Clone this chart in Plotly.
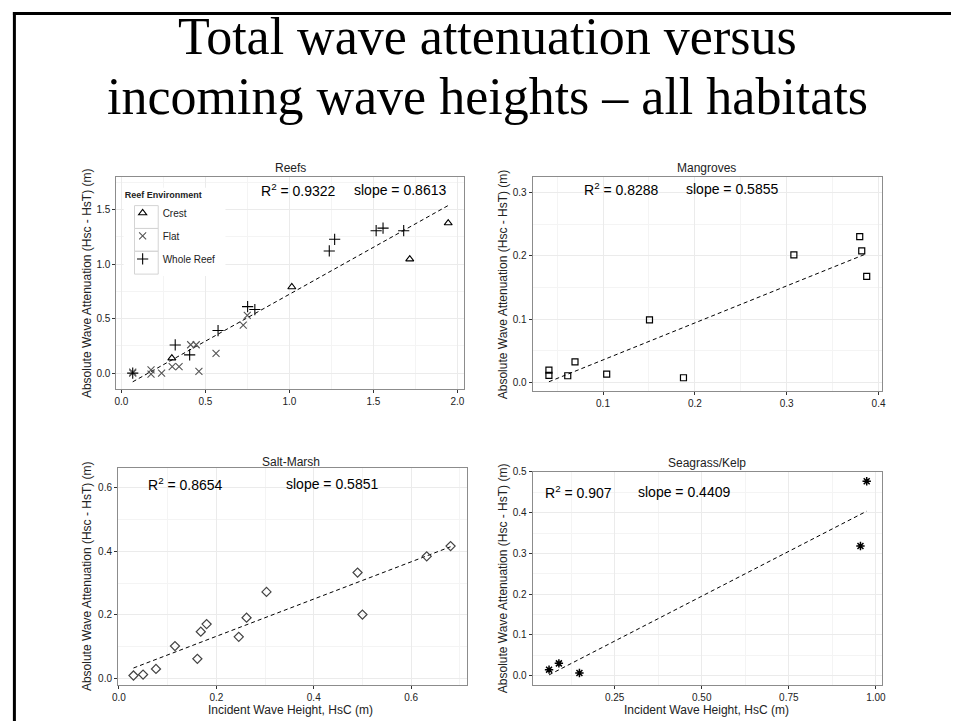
import plotly.graph_objects as go

W, H = 956, 721

# ---------------- data ----------------
reef_crest_x = [0.30, 1.014, 1.716, 1.945]
reef_crest_y = [0.137, 0.79, 1.045, 1.376]
reef_flat_x = [0.067, 0.067, 0.176, 0.176, 0.239, 0.302, 0.343, 0.412, 0.445, 0.461, 0.563, 0.725, 0.749]
reef_flat_y = [0.0, 0.008, 0.03, -0.01, 0.0, 0.06, 0.06, 0.26, 0.26, 0.015, 0.18, 0.44, 0.53]
reef_whole_x = [0.067, 0.32, 0.406, 0.575, 0.751, 0.794, 1.237, 1.269, 1.516, 1.557, 1.68]
reef_whole_y = [0.0, 0.258, 0.167, 0.39, 0.61, 0.583, 1.12, 1.227, 1.306, 1.33, 1.306]
reef_fit_x = [0.067, 1.945]
reef_fit_y = [-0.080, 1.537]

mang_x = [0.0411, 0.0411, 0.0616, 0.0695, 0.104, 0.1506, 0.1876, 0.3078, 0.3795, 0.3817, 0.3871]
mang_y = [0.0194, 0.011, 0.0105, 0.0325, 0.013, 0.099, 0.0073, 0.2016, 0.2304, 0.2079, 0.1675]
mang_fit_x = [0.0411, 0.3871]
mang_fit_y = [0.001, 0.2036]

marsh_x = [0.0298, 0.0495, 0.076, 0.115, 0.161, 0.168, 0.180, 0.246, 0.262, 0.303, 0.490, 0.500, 0.632, 0.681]
marsh_y = [0.0094, 0.0125, 0.030, 0.102, 0.062, 0.147, 0.171, 0.131, 0.191, 0.272, 0.333, 0.201, 0.384, 0.416]
marsh_fit_x = [0.0298, 0.681]
marsh_fit_y = [0.033, 0.414]

sea_x = [0.0618, 0.090, 0.149, 0.9556, 0.9735]
sea_y = [0.0146, 0.030, 0.0065, 0.318, 0.477]
sea_fit_x = [0.0618, 0.9735]
sea_fit_y = [0.0017, 0.4037]

title_lines = ["Total wave attenuation versus", "incoming wave heights \u2013 all habitats"]
panel_titles = ["Reefs", "Mangroves", "Salt-Marsh", "Seagrass/Kelp"]
r2_labels = ["0.9322", "0.8288", "0.8654", "0.907"]
slope_labels = ["0.8613", "0.5855", "0.5851", "0.4409"]
legend_names = ["Crest", "Flat", "Whole Reef"]

# ---------------- helpers ----------------
def px(x):
    return x / W

def py(y):
    return 1 - y / H

SANS = "Liberation Sans, Arial, sans-serif"
GRID = "#ebebeb"
MINOR = "#f4f4f4"
BORDER = "#8c8c8c"

fig = go.Figure()

# panel pixel boxes: (left, right, top, bottom)
boxes = [
    (111.7, 463.0, 172.7, 386.7),
    (532.7, 886.7, 172.7, 388.3),
    (113.3, 466.0, 466.7, 684.3),
    (532.7, 885.7, 470.0, 684.3),
]
xranges = [[-0.03, 2.037], [0.0233, 0.4043], [-0.002, 0.714], [0.0145, 1.016]]
yranges = [[-0.146, 1.803], [-0.013, 0.3256], [-0.019, 0.660], [-0.022, 0.5005]]
xdt = [(0.5, 0.25, ".1f"), (0.1, 0.05, ".1f"), (0.2, 0.1, ".1f"), (0.25, 0.125, ".2f")]
ydt = [(0.5, 0.25, ".1f"), (0.1, 0.05, ".1f"), (0.2, 0.1, ".1f"), (0.1, 0.05, ".1f")]

for i in range(4):
    l, r, t, b = boxes[i]
    sx = "" if i == 0 else str(i + 1)
    common = dict(
        showline=True, linecolor=BORDER, linewidth=1, mirror=True,
        ticks="outside", ticklen=3, tickcolor="#333333", tickwidth=1,
        showgrid=True, gridcolor=GRID, gridwidth=1, zeroline=False,
        tickfont=dict(family=SANS, size=10, color="#222222"),
    )
    fig.layout["xaxis" + sx] = dict(
        common, domain=[px(l), px(r)], range=xranges[i], anchor="y" + sx,
        dtick=xdt[i][0], tick0=0, tickformat=xdt[i][2],
        minor=dict(showgrid=True, gridcolor=MINOR, dtick=xdt[i][1], tick0=0, gridwidth=1),
    )
    fig.layout["yaxis" + sx] = dict(
        common, domain=[py(b), py(t)], range=yranges[i], anchor="x" + sx,
        dtick=ydt[i][0], tick0=0, tickformat=ydt[i][2],
        minor=dict(showgrid=True, gridcolor=MINOR, dtick=ydt[i][1], tick0=0, gridwidth=1),
    )

# ---------------- traces ----------------
def fit(xs, ys, ax):
    return go.Scatter(x=xs, y=ys, mode="lines", line=dict(color="black", width=1, dash="4px,3px"),
                      showlegend=False, hoverinfo="skip", xaxis="x" + ax, yaxis="y" + ax)

fig.add_trace(fit(reef_fit_x, reef_fit_y, ""))
fig.add_trace(go.Scatter(x=reef_crest_x, y=reef_crest_y, mode="markers", name=legend_names[0],
                         legendgroup="a",
                         marker=dict(symbol="triangle-up-open", size=7, color="black", line=dict(width=1.1))))
fig.add_trace(go.Scatter(x=reef_flat_x, y=reef_flat_y, mode="markers", name=legend_names[1],
                         legendgroup="b",
                         marker=dict(symbol="x-thin-open", size=7, color="#555555", line=dict(width=1.1, color="#555555"))))
fig.add_trace(go.Scatter(x=reef_whole_x, y=reef_whole_y, mode="markers", name=legend_names[2],
                         legendgroup="c",
                         marker=dict(symbol="cross-thin-open", size=8, color="black", line=dict(width=1.1, color="black"))))

fig.add_trace(fit(mang_fit_x, mang_fit_y, "2"))
fig.add_trace(go.Scatter(x=mang_x, y=mang_y, mode="markers", showlegend=False, xaxis="x2", yaxis="y2",
                         marker=dict(symbol="square-open", size=6, color="black", line=dict(width=1.2))))

fig.add_trace(fit(marsh_fit_x, marsh_fit_y, "3"))
fig.add_trace(go.Scatter(x=marsh_x, y=marsh_y, mode="markers", showlegend=False, xaxis="x3", yaxis="y3",
                         marker=dict(symbol="diamond-open", size=7, color="#444444", line=dict(width=1.2))))

fig.add_trace(fit(sea_fit_x, sea_fit_y, "4"))
fig.add_trace(go.Scatter(x=sea_x, y=sea_y, mode="markers", showlegend=False, xaxis="x4", yaxis="y4",
                         marker=dict(symbol="asterisk-open", size=7, color="black", line=dict(width=1.5, color="black"))))

# ---------------- annotations ----------------
ann = []
# main title, one annotation per line
for txt, cy in zip(title_lines, [32, 92]):
    ann.append(dict(text=txt, x=px(487), y=py(cy), xref="paper", yref="paper", showarrow=False,
                    font=dict(family="Liberation Serif, Times New Roman, serif", size=52, color="black"),
                    xanchor="center", yanchor="middle"))

title_pos = [(288, 164), (709, 164), (288, 460), (709, 461)]
for (tx, ty), name in zip(title_pos, panel_titles):
    ann.append(dict(text=name, x=px(tx), y=py(ty), xref="paper", yref="paper", showarrow=False,
                    font=dict(family=SANS, size=12, color="#222222"), xanchor="center", yanchor="middle"))

r2_pos = [(296, 186), (623, 185), (182, 482), (579, 490)]
sl_pos = [(399, 186), (734, 185), (330, 482), (686, 490)]
for (rx, ry), (sx_, sy_), r2, sl in zip(r2_pos, sl_pos, r2_labels, slope_labels):
    ann.append(dict(text="R<sup>2</sup> = " + r2, x=px(rx), y=py(ry), xref="paper", yref="paper",
                    showarrow=False, font=dict(family=SANS, size=14, color="black"),
                    xanchor="center", yanchor="middle"))
    ann.append(dict(text="slope = " + sl, x=px(sx_), y=py(sy_), xref="paper", yref="paper",
                    showarrow=False, font=dict(family=SANS, size=14, color="black"),
                    xanchor="center", yanchor="middle"))

ytitle = "Absolute Wave Attenuation (Hsc - HsT) (m)"
for (yx, yy) in [(82, 280), (503, 281), (82, 575), (503, 577)]:
    ann.append(dict(text=ytitle, x=px(yx), y=py(yy), xref="paper", yref="paper", showarrow=False,
                    textangle=-90, font=dict(family=SANS, size=12, color="#222222"),
                    xanchor="center", yanchor="middle"))
xtitle = "Incident Wave Height, HsC (m)"
for (xx, xy) in [(288, 710), (709, 710)]:
    ann.append(dict(text=xtitle, x=px(xx), y=py(xy), xref="paper", yref="paper", showarrow=False,
                    font=dict(family=SANS, size=12, color="#222222"), xanchor="center", yanchor="middle"))

# ---------------- shapes: slide frame and legend keys ----------------
shapes = [
    dict(type="line", xref="paper", yref="paper", x0=px(8.5), x1=px(8.5), y0=py(7), y1=py(721),
         line=dict(color="black", width=3)),
    dict(type="line", xref="paper", yref="paper", x0=px(7), x1=px(956), y0=py(8.5), y1=py(8.5),
         line=dict(color="black", width=3)),
    dict(type="rect", xref="paper", yref="paper", x0=px(119), x1=px(222), y0=py(184), y1=py(273),
         fillcolor="white", line=dict(width=0), layer="above"),
]
for k in range(3):
    top = 202 + 23 * k
    shapes.append(dict(type="rect", xref="paper", yref="paper", x0=px(130), x1=px(154),
                       y0=py(top + 23), y1=py(top), fillcolor="rgba(0,0,0,0)",
                       line=dict(color="#d4d4d4", width=1), layer="above"))

fig.update_layout(
    width=W, height=H, margin=dict(l=0, r=0, t=0, b=0),
    paper_bgcolor="white", plot_bgcolor="white",
    annotations=ann, shapes=shapes,
    legend=dict(x=px(118), y=py(183), xanchor="left", yanchor="top",
                bgcolor="rgba(0,0,0,0)", tracegroupgap=4,
                title=dict(text="<b>Reef Environment</b>", font=dict(family=SANS, size=9, color="#222222")),
                font=dict(family=SANS, size=10, color="#222222")),
    showlegend=True,
)

fig.write_html("out.html")
